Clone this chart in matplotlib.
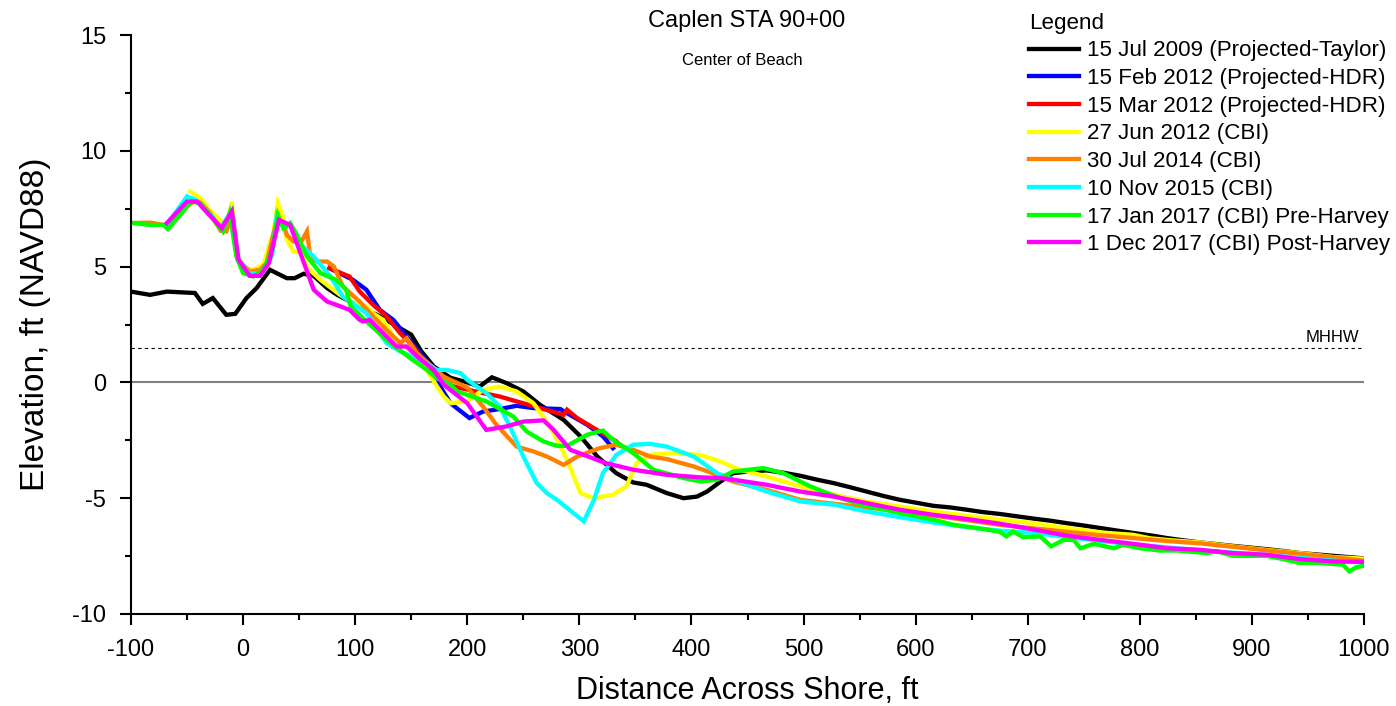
import matplotlib
matplotlib.use("Agg")
import matplotlib.pyplot as plt
from matplotlib.ticker import MultipleLocator

plt.rcParams['font.family'] = ['Liberation Sans', 'DejaVu Sans']
plt.rcParams['axes.unicode_minus'] = False

# --- profile data (distance across shore, ft / elevation, ft NAVD88) ---
x_2009 = [-100, -83, -68, -43, -36, -27, -15, -7, 3, 12, 24, 39, 46, 54, 63, 75, 84, 100,
          125, 140, 150, 159, 170, 185, 200, 211, 222, 235, 250, 265, 286, 301, 316, 333,
          348, 360, 378, 393, 405, 414, 426, 437, 450, 467, 482, 497, 512, 527, 541, 556,
          571, 586, 601, 616, 631, 646, 660, 675, 690, 705, 720, 735, 750, 765, 780, 794,
          809, 824, 839, 854, 868, 883, 898, 913, 928, 943, 958, 973, 988, 1000]
y_2009 = [3.92, 3.78, 3.92, 3.86, 3.39, 3.64, 2.92, 2.96, 3.64, 4.07, 4.86, 4.5, 4.5, 4.69,
          4.6, 4.07, 3.78, 3.38, 2.78, 2.34, 2.06, 1.34, 0.69, 0.2, 0.0, -0.18, 0.22, -0.03,
          -0.39, -0.97, -1.62, -2.33, -3.2, -3.92, -4.32, -4.42, -4.78, -5.0, -4.93, -4.71,
          -4.28, -3.92, -3.85, -3.8, -3.9, -4.03, -4.2, -4.35, -4.52, -4.71, -4.9, -5.07,
          -5.2, -5.33, -5.4, -5.5, -5.6, -5.68, -5.78, -5.88, -5.97, -6.08, -6.18, -6.29,
          -6.4, -6.5, -6.6, -6.72, -6.82, -6.91, -6.98, -7.06, -7.13, -7.2, -7.28, -7.37,
          -7.43, -7.49, -7.55, -7.6]

x_feb12 = [77, 98, 110, 122, 134, 146, 158, 170, 176, 185, 202, 214, 229, 244, 259, 283,
           289, 307, 321, 330]
y_feb12 = [4.93, 4.43, 4.0, 3.13, 2.7, 1.98, 1.26, 0.54, -0.18, -0.9, -1.54, -1.26, -1.15,
           -1.01, -1.11, -1.15, -1.33, -1.83, -2.33, -2.84]

x_mar12 = [77, 95, 104, 116, 128, 140, 152, 164, 176, 188, 214, 229, 244, 265, 286, 289,
           298, 318, 333, 336]
y_mar12 = [4.93, 4.57, 3.93, 3.35, 2.85, 2.13, 1.55, 0.76, 0.11, -0.18, -0.46, -0.61, -0.82,
           -1.11, -1.4, -1.18, -1.54, -2.12, -2.55, -2.7]

x_jun12 = [-47, -38, -30, -22, -15, -10, -6, 2, 9, 18, 27, 31, 36, 39, 45, 52, 58, 69, 86,
           98, 110, 117, 125, 134, 152, 164, 173, 179, 185, 200, 214, 229, 244, 259, 274,
           289, 301, 313, 330, 342, 351, 363, 384, 408, 426, 443, 467, 497, 527, 556, 586,
           616, 646, 675, 705, 735, 765, 794, 809, 824, 854, 883, 913, 943, 973, 1000]
y_jun12 = [8.24, 7.96, 7.45, 7.09, 6.66, 7.81, 5.51, 4.93, 4.86, 5.08, 6.45, 7.74, 7.09,
           6.16, 5.65, 5.58, 4.93, 4.43, 3.8, 3.42, 3.28, 2.95, 2.7, 1.98, 1.26, 0.54, -0.18,
           -0.61, -0.9, -0.82, -0.32, -0.18, -0.39, -0.9, -1.9, -3.34, -4.78, -5.0, -4.85,
           -4.49, -3.49, -3.13, -3.05, -3.13, -3.42, -3.77, -4.06, -4.49, -4.85, -5.14, -5.36,
           -5.57, -5.76, -5.92, -6.08, -6.29, -6.48, -6.58, -6.73, -6.8, -6.91, -7.08, -7.23,
           -7.37, -7.54, -7.61]

x_jul14 = [-100, -83, -71, -66, -50, -43, -38, -30, -20, -15, -10, -5, 6, 15, 21, 30, 36, 39,
           45, 52, 57, 60, 66, 75, 81, 89, 104, 116, 128, 140, 146, 155, 170, 179, 185, 200,
           214, 226, 244, 259, 271, 286, 298, 318, 333, 348, 363, 378, 402, 423, 437, 467,
           497, 527, 556, 586, 616, 646, 675, 705, 735, 765, 794, 824, 854, 883, 913, 943,
           973, 1000]
y_jul14 = [6.88, 6.9, 6.8, 6.7, 7.6, 7.85, 7.75, 7.35, 6.55, 6.52, 7.2, 5.3, 4.79, 4.86, 5.15,
           7.02, 6.8, 6.37, 6.08, 6.08, 6.52, 5.4, 5.22, 5.22, 5.0, 4.14, 3.49, 2.85, 2.27, 1.7,
           1.91, 1.26, 0.62, 0.25, 0.11, -0.22, -1.04, -1.83, -2.77, -2.98, -3.2, -3.56, -3.2,
           -2.84, -2.69, -2.91, -3.2, -3.31, -3.63, -3.99, -4.28, -4.64, -5.07, -5.24, -5.4,
           -5.55, -5.75, -5.95, -6.15, -6.3, -6.45, -6.6, -6.72, -6.85, -6.95, -7.1, -7.25,
           -7.4, -7.55, -7.7]

x_nov15 = [-67, -50, -43, -38, -30, -20, -10, -5, 5, 15, 22, 26, 30, 36, 42, 51, 63, 78, 89,
           110, 128, 140, 158, 173, 182, 194, 200, 217, 229, 238, 250, 262, 271, 280, 304,
           313, 321, 333, 348, 363, 378, 402, 423, 437, 467, 497, 527, 556, 586, 616, 646,
           675, 705, 735, 765, 794, 824, 854, 883, 913, 943, 973, 1000]
y_nov15 = [6.88, 8.03, 7.9, 7.7, 7.3, 6.7, 7.4, 5.4, 4.7, 4.7, 5.1, 5.5, 7.2, 6.66, 6.8, 5.95,
           5.44, 4.57, 3.71, 2.99, 1.7, 1.34, 0.98, 0.54, 0.54, 0.4, 0.11, -0.46, -1.04, -1.9,
           -3.2, -4.35, -4.78, -5.07, -6.0, -5.07, -3.92, -3.13, -2.69, -2.65, -2.77, -3.2,
           -3.92, -4.2, -4.71, -5.14, -5.28, -5.57, -5.82, -6.05, -6.25, -6.4, -6.5, -6.68,
           -6.85, -7.0, -7.12, -7.25, -7.35, -7.45, -7.58, -7.7, -7.78]

x_jan17 = [-98, -83, -71, -67, -50, -46, -38, -31, -18, -12, -6, 0, 9, 18, 26, 31, 36, 42,
           48, 57, 69, 82, 88, 92, 96, 110, 128, 149, 164, 172, 185, 191, 217, 241, 253, 268,
           280, 289, 307, 321, 330, 348, 366, 393, 408, 423, 437, 464, 482, 506, 533, 556,
           586, 616, 634, 655, 675, 681, 687, 696, 711, 721, 732, 741, 747, 759, 777, 785,
           800, 818, 833, 860, 869, 883, 913, 928, 943, 961, 981, 987, 993, 1000]
y_jan17 = [6.88, 6.8, 6.8, 6.62, 7.6, 7.81, 7.74, 7.31, 6.52, 7.31, 5.44, 4.72, 4.57, 4.86,
           5.73, 7.24, 6.66, 6.88, 6.37, 5.44, 4.72, 4.45, 4.21, 4.0, 3.28, 2.63, 1.84, 1.05,
           0.54, 0.2, -0.1, -0.39, -0.82, -1.47, -2.12, -2.55, -2.74, -2.74, -2.26, -2.08,
           -2.48, -3.05, -3.77, -4.13, -4.28, -4.2, -3.85, -3.7, -3.92, -4.49, -5.0, -5.33,
           -5.64, -5.93, -6.15, -6.29, -6.45, -6.65, -6.44, -6.68, -6.65, -7.08, -6.8, -6.8,
           -7.16, -6.97, -7.16, -7.01, -7.16, -7.26, -7.26, -7.37, -7.3, -7.49, -7.49, -7.63,
           -7.8, -7.8, -7.87, -8.16, -7.98, -7.92]

x_dec17 = [-68, -50, -41, -33, -19, -10, -4, 6, 15, 23, 32, 42, 51, 63, 75, 87, 95, 104, 107,
           113, 125, 137, 146, 158, 170, 179, 200, 217, 235, 250, 268, 277, 292, 304, 324,
           348, 378, 408, 426, 437, 467, 497, 527, 556, 586, 616, 646, 675, 705, 735, 765,
           794, 824, 854, 883, 913, 943, 973, 1000]
y_dec17 = [6.88, 7.81, 7.81, 7.38, 6.66, 7.38, 5.29, 4.6, 4.6, 5.15, 7.02, 6.8, 5.6, 4.0,
           3.49, 3.28, 3.13, 2.7, 2.63, 2.7, 2.13, 1.55, 1.55, 1.0, 0.55, -0.1, -0.9, -2.05,
           -1.9, -1.69, -1.64, -2.05, -2.91, -3.13, -3.49, -3.77, -3.99, -4.1, -4.13, -4.2,
           -4.42, -4.71, -4.93, -5.21, -5.5, -5.72, -5.9, -6.1, -6.35, -6.62, -6.8, -6.97,
           -7.16, -7.23, -7.37, -7.44, -7.63, -7.73, -7.75]

labels = ['15 Jul 2009 (Projected-Taylor)', '15 Feb 2012 (Projected-HDR)',
          '15 Mar 2012 (Projected-HDR)', '27 Jun 2012 (CBI)', '30 Jul 2014 (CBI)',
          '10 Nov 2015 (CBI)', '17 Jan 2017 (CBI) Pre-Harvey', '1 Dec 2017 (CBI) Post-Harvey']
colors = ['#000000', '#0000ff', '#ff0000', '#ffff00', '#ff8000', '#00ffff', '#00ff00', '#ff00ff']
series = [(x_2009, y_2009), (x_feb12, y_feb12), (x_mar12, y_mar12), (x_jun12, y_jun12),
          (x_jul14, y_jul14), (x_nov15, y_nov15), (x_jan17, y_jan17), (x_dec17, y_dec17)]

mhhw = 1.5

fig = plt.figure(figsize=(13.96, 7.06), dpi=100)
ax = fig.add_axes([131 / 1396, 1 - 614 / 706, (1364 - 131) / 1396, (614 - 35) / 706])

ax.axhline(0, color='#808080', lw=1.5, zorder=1)
ax.axhline(mhhw, color='black', lw=0.8, ls=(0, (3, 3)), zorder=1)
ax.text(996, mhhw + 0.1, 'MHHW', ha='right', va='bottom', fontsize=12)

for (xs, ys), c, lab in zip(series, colors, labels):
    ax.plot(xs, ys, color=c, lw=3.1, label=lab, solid_joinstyle='miter', zorder=2)

ax.set_xlim(-100, 1000)
ax.set_ylim(-10, 15)
ax.xaxis.set_major_locator(MultipleLocator(100))
ax.xaxis.set_minor_locator(MultipleLocator(50))
ax.yaxis.set_major_locator(MultipleLocator(5))
ax.yaxis.set_minor_locator(MultipleLocator(2.5))
ax.tick_params(which='major', direction='out', length=8, width=1.5, labelsize=17)
ax.tick_params(axis='x', which='major', pad=10)
ax.tick_params(axis='y', which='major', pad=10)
ax.tick_params(which='minor', direction='out', length=4.5, width=1.5)
for s in ['top', 'right']:
    ax.spines[s].set_visible(False)
for s in ['left', 'bottom']:
    ax.spines[s].set_linewidth(1.5)

ax.set_xlabel('Distance Across Shore, ft', fontsize=22, labelpad=11)
ax.set_ylabel('Elevation, ft (NAVD88)', fontsize=24, labelpad=15)

fig.text(0.535, 0.970, 'Caplen STA 90+00', ha='center', va='center', fontsize=17)
fig.text(0.532, 0.915, 'Center of Beach', ha='center', va='center', fontsize=12)

leg = ax.legend(loc='upper left', bbox_to_anchor=(1013 / 1396, 1 + 3 / 706),
                bbox_transform=fig.transFigure, frameon=False, fontsize=16.1,
                title='Legend', title_fontsize=16.1, alignment='left',
                handlelength=2.25, handletextpad=0.35, labelspacing=0.3, borderpad=0.2)

fig.savefig('out.png', dpi=100)
